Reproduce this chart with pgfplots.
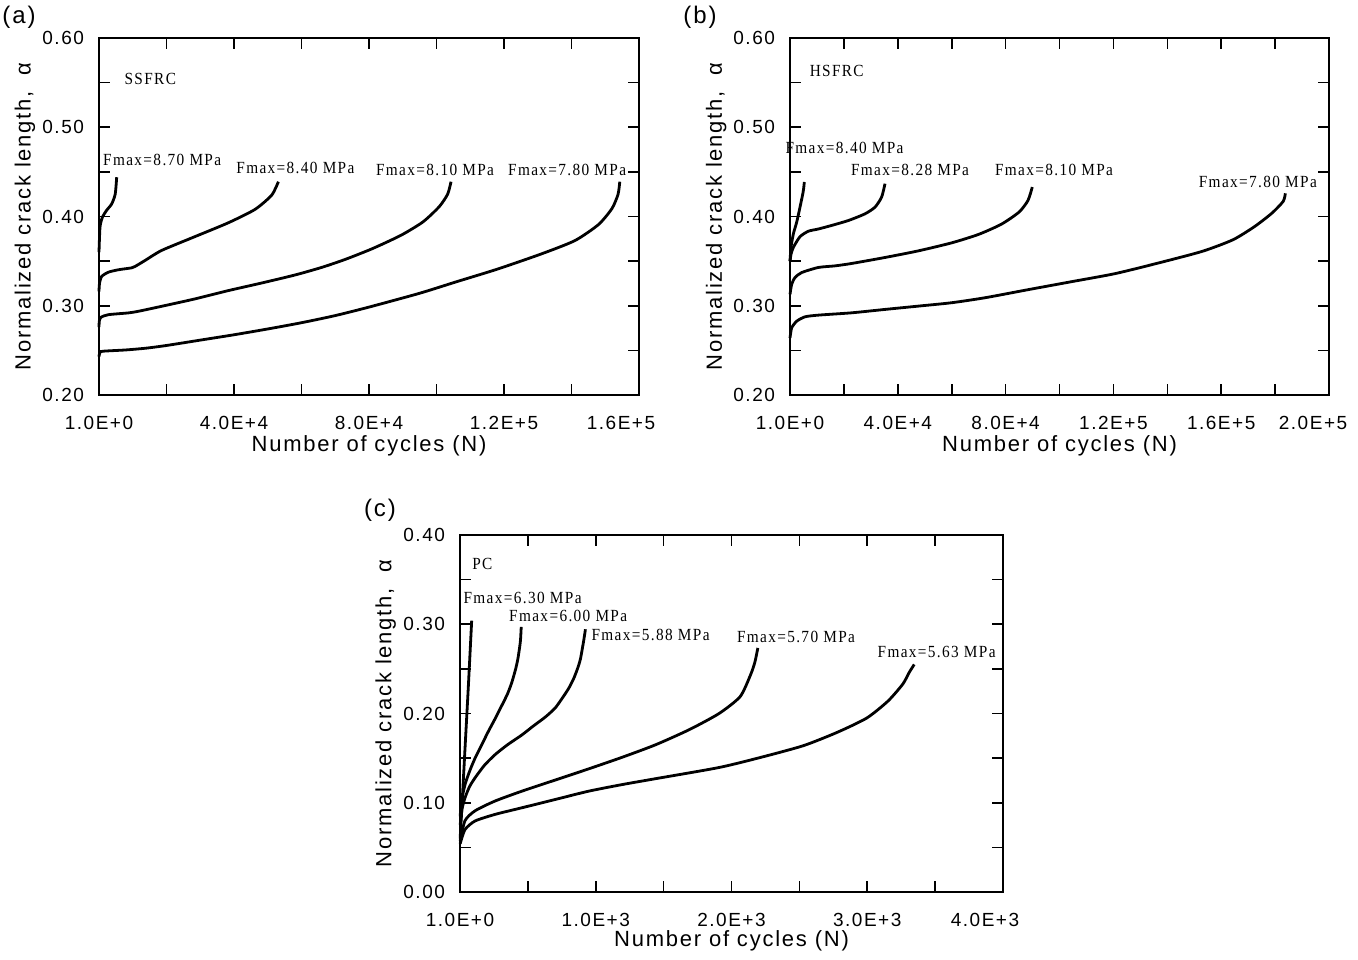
\documentclass[border=0pt]{standalone}
\usepackage{fontspec}
\setmainfont{Liberation Sans}[LetterSpace=8]
\newfontfamily\annfont{Liberation Serif}[LetterSpace=8,FakeStretch=0.9]
\usepackage{pgfplots}
\pgfplotsset{compat=1.18}
\pgfplotsset{
  crackaxis/.style={
    scale only axis, height=178.5pt, anchor=south west,
    axis line style={line width=0.9pt},
    tick align=inside, major tick length=5.5pt,
    every tick/.style={black, line width=0.8pt},
    tick label style={font=\fontsize{9.5}{11}\selectfont},
    xticklabel shift=7pt, yticklabel shift=4pt,
    label style={font=\fontsize{11}{13}\selectfont},
    x label style={at={(axis description cs:0.5,-0.143)}, anchor=center},
    y label style={at={(axis description cs:-0.137,0.5)}, anchor=center},
    scaled x ticks=false, clip=false,
    every axis plot post/.style={black, line width=1.4pt, mark=none, smooth, tension=0.4},
    xlabel={Number of cycles (N)}, ylabel={Normalized crack length,\ \ α},
  },
}
\tikzset{ann/.style={font=\annfont\fontsize{8.5}{9}\selectfont, inner sep=0pt}}
\begin{document}
\begin{tikzpicture}
\path[use as bounding box] (0,0) rectangle (679pt,-479.5pt);
\node[font=\fontsize{12}{14}\selectfont] at (9.5pt,-8.5pt) {(a)};
\node[font=\fontsize{12}{14}\selectfont] at (350pt,-8.5pt) {(b)};
\node[font=\fontsize{12}{14}\selectfont] at (190pt,-255pt) {(c)};

% ---------------- (a) SSFRC
\begin{axis}[crackaxis, at={(49.5pt,-197.5pt)}, width=270pt,
  xmin=0, xmax=160000, ymin=0.2, ymax=0.6,
  xtick={0,20000,40000,60000,80000,100000,120000,140000,160000},
  xticklabels={1.0E+0,,4.0E+4,,8.0E+4,,1.2E+5,,\hspace*{-18pt}1.6E+5},
  ytick={0.2,0.25,0.3,0.35,0.4,0.45,0.5,0.55,0.6},
  yticklabels={0.20,,0.30,,0.40,,0.50,,0.60}]
\addplot coordinates {(1,0.360) (300,0.388) (990,0.399) (2270,0.407) (3750,0.414) (4800,0.425) (5240,0.444)};
\addplot coordinates {(1,0.316) (150,0.325) (790,0.3328) (2770,0.3376) (5730,0.3403) (9680,0.3425) (10670,0.344) (13630,0.3507) (18570,0.362) (28450,0.3775) (38330,0.393) (46240,0.408) (51180,0.424) (53150,0.439)};
\addplot coordinates {(1,0.276) (100,0.283) (590,0.2871) (2770,0.290) (8700,0.292) (11660,0.2938) (18570,0.2994) (28450,0.3077) (38330,0.317) (48200,0.3255) (58100,0.3345) (66000,0.343) (73000,0.352) (81000,0.364) (89500,0.379) (96000,0.394) (100800,0.411) (103300,0.425) (104300,0.439)};
\addplot coordinates {(1,0.243) (200,0.247) (1000,0.249) (8000,0.2505) (14000,0.2525) (20000,0.2555) (30000,0.2615) (40000,0.2675) (50000,0.274) (60000,0.281) (70000,0.289) (80000,0.2985) (95000,0.314) (106000,0.327) (118000,0.341) (131000,0.358) (141000,0.373) (148000,0.391) (152000,0.409) (153800,0.425) (154300,0.439)};
\node[ann] at (axis cs:15200,0.554) {SSFRC};
\node[ann, anchor=west] at (axis cs:1130,0.4636) {Fmax=8.70 MPa};
\node[ann] at (axis cs:58200,0.454) {Fmax=8.40 MPa};
\node[ann] at (axis cs:99560,0.452) {Fmax=8.10 MPa};
\node[ann] at (axis cs:138700,0.452) {Fmax=7.80 MPa};
\end{axis}

% ---------------- (b) HSFRC
\begin{axis}[crackaxis, at={(395pt,-197.5pt)}, width=269.5pt,
  xmin=0, xmax=200000, ymin=0.2, ymax=0.6,
  xtick={0,20000,40000,60000,80000,100000,120000,140000,160000,180000,200000},
  xticklabels={1.0E+0,,4.0E+4,,8.0E+4,,1.2E+5,,1.6E+5,,\hspace*{-16pt}2.0E+5},
  ytick={0.2,0.25,0.3,0.35,0.4,0.45,0.5,0.55,0.6},
  yticklabels={0.20,,0.30,,0.40,,0.50,,0.60}]
\addplot coordinates {(1,0.350) (371,0.3654) (1237,0.3805) (2474,0.3936) (3710,0.4105) (4900,0.428) (5320,0.4387)};
\addplot coordinates {(1,0.350) (400,0.358) (1237,0.3654) (3710,0.3774) (6800,0.3835) (10500,0.386) (15460,0.390) (21650,0.3955) (27830,0.403) (31540,0.4105) (34000,0.4218) (35250,0.4368)};
\addplot coordinates {(1,0.3128) (620,0.324) (1860,0.3316) (4330,0.3372) (10500,0.3429) (16700,0.3447) (22900,0.3474) (35250,0.3541) (47600,0.3615) (60000,0.3705) (70000,0.380) (78500,0.3915) (85000,0.405) (88300,0.418) (89900,0.433)};
\addplot coordinates {(1,0.2639) (620,0.2752) (2474,0.2827) (5570,0.2876) (10500,0.2895) (22900,0.2921) (35250,0.2959) (47600,0.2996) (60000,0.3034) (72400,0.309) (88300,0.318) (104500,0.327) (120600,0.336) (136800,0.348) (153000,0.361) (164400,0.374) (172500,0.389) (178900,0.404) (183000,0.417) (183800,0.426)};
\node[ann] at (axis cs:17330,0.5626) {HSFRC};
\node[ann] at (axis cs:20240,0.4766) {Fmax=8.40 MPa};
\node[ann] at (axis cs:44530,0.452) {Fmax=8.28 MPa};
\node[ann] at (axis cs:97980,0.452) {Fmax=8.10 MPa};
\node[ann] at (axis cs:173600,0.439) {Fmax=7.80 MPa};
\end{axis}

% ---------------- (c) PC
\begin{axis}[crackaxis, at={(230pt,-446pt)}, width=271.5pt,
  xmin=0, xmax=4000, ymin=0, ymax=0.4,
  xtick={0,500,1000,1500,2000,2500,3000,3500,4000},
  xticklabels={1.0E+0,,1.0E+3,,2.0E+3,,3.0E+3,,\hspace*{-18pt}4.0E+3},
  ytick={0,0.05,0.1,0.15,0.2,0.25,0.3,0.35,0.4},
  yticklabels={0.00,,0.10,,0.20,,0.30,,0.40},
  x label style={at={(axis description cs:0.5,-0.137)}}]
\addplot coordinates {(1,0.060) (12,0.0896) (37,0.161) (62,0.232) (86,0.304)};
\addplot coordinates {(1,0.085) (15,0.105) (40,0.122) (75,0.137) (111,0.150) (160,0.165) (209,0.180) (258,0.194) (308,0.209) (350,0.222) (382,0.235) (410,0.250) (426,0.261) (440,0.275) (446,0.283) (451,0.297)};
\addplot coordinates {(1,0.075) (15,0.093) (37,0.1056) (70,0.118) (111,0.128) (180,0.142) (259,0.154) (350,0.165) (456,0.176) (540,0.186) (628,0.196) (700,0.206) (751,0.2167) (800,0.228) (837,0.239) (865,0.250) (887,0.261) (911,0.2815) (924,0.2944)};
\addplot coordinates {(1,0.057) (37,0.080) (111,0.091) (259,0.102) (456,0.113) (702,0.1255) (948,0.138) (1195,0.151) (1441,0.165) (1690,0.182) (1908,0.200) (2064,0.219) (2142,0.244) (2173,0.258) (2194,0.2735)};
\addplot coordinates {(1,0.054) (37,0.070) (111,0.0796) (259,0.087) (456,0.0944) (702,0.1037) (948,0.113) (1195,0.1204) (1441,0.127) (1908,0.1395) (2219,0.151) (2530,0.164) (2780,0.179) (2997,0.195) (3153,0.214) (3262,0.233) (3309,0.246) (3346,0.255)};
\node[ann] at (axis cs:165,0.368) {PC};
\node[ann] at (axis cs:461,0.330) {Fmax=6.30 MPa};
\node[ann] at (axis cs:797,0.309) {Fmax=6.00 MPa};
\node[ann] at (axis cs:1404,0.288) {Fmax=5.88 MPa};
\node[ann] at (axis cs:2475,0.2858) {Fmax=5.70 MPa};
\node[ann] at (axis cs:3511,0.2687) {Fmax=5.63 MPa};
\end{axis}
\end{tikzpicture}
\end{document}
